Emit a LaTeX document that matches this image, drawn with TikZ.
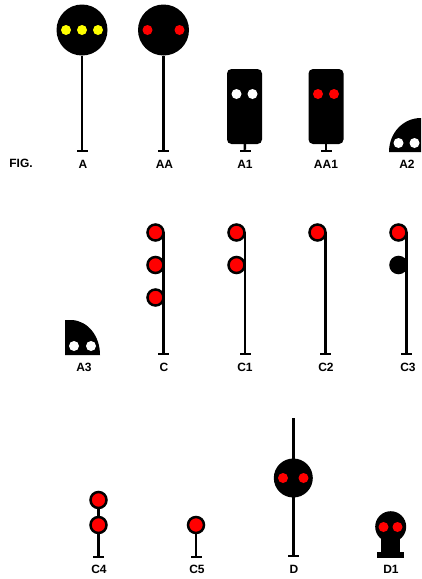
\documentclass[tikz,border=0pt]{standalone}
\usepackage{fontspec}
\setmainfont{Liberation Sans}
\definecolor{lampred}{RGB}{255,0,0}
\definecolor{lampyellow}{RGB}{255,255,0}
\tikzset{
    head/.style={circle, fill=black, minimum size=51pt},
    body/.style={rectangle, fill=black, rounded corners=4.5pt, minimum width=35pt, minimum height=75pt},
    lamp/.style={circle, minimum size=10pt},
    ball/.style={circle, draw=black, line width=2.5pt, fill=lampred, minimum size=16pt},
    foot/.style={rectangle, fill=black, minimum width=11pt, minimum height=2.5pt},
    post/.style={line width=2.5pt},
    tag/.style={font=\bfseries\fontsize{12}{12}\selectfont}
}
\begin{document}
\begin{tikzpicture}[
    x=1pt, y=-1pt,
    every node/.style={inner sep=0pt, outer sep=0pt}
]
\useasboundingbox (0,0) rectangle (421,579);

% ================= Top row : A, AA, A1, AA1, A2 =================

\node[tag] (fig) at (21,163) {FIG.};

\node[foot] (fa) at (82,151) {};
\node[head] (ha) at (82,30) {};
\draw[post] (ha)--(fa);
\node[lamp, fill=lampyellow] (a1) at (66,30) {};
\node[lamp, fill=lampyellow] (a2) at (82,30) {};
\node[lamp, fill=lampyellow] (a3) at (98,30) {};
\node[tag] (la) at (83,164) {A};

\node[foot] (faa) at (163.5,151) {};
\node[head] (haa) at (163.5,30) {};
\draw[post] (haa)--(faa);
\node[lamp, fill=lampred] (aa1) at (147.5,30) {};
\node[lamp, fill=lampred] (aa2) at (179.5,30) {};
\node[tag] (laa) at (164.5,164) {AA};

\node[foot] (fb) at (245,151) {};
\node[body] (hb) at (244.5,106.5) {};
\draw[post] (hb)--(fb);
\node[lamp, fill=white] (b1) at (236.5,94) {};
\node[lamp, fill=white] (b2) at (252.5,94) {};
\node[tag] (lb) at (245,164) {A1};

\node[foot] (fbb) at (326,151) {};
\node[body] (hbb) at (326,106.5) {};
\draw[post] (hbb)--(fbb);
\node[lamp, fill=lampred] (bb1) at (318,94) {};
\node[lamp, fill=lampred] (bb2) at (334,94) {};
\node[tag] (lbb) at (326,164) {AA1};

\fill (389,152) .. controls (389,133) and (403,118) .. (421,118) -- (421,152) -- cycle;
\node[lamp, fill=white] (d1) at (398.5,143) {};
\node[lamp, fill=white] (d2) at (414.5,143) {};
\node[tag] (ld) at (407,164) {A2};

% ================= Middle row : A3, C, C1, C2, C3 =================

\fill (65,355) -- (65,320) -- (72,320) .. controls (88,321) and (100,336) .. (100,355) -- cycle;
\node[lamp, fill=white] (e1) at (74,346) {};
\node[lamp, fill=white] (e2) at (91,346) {};
\node[tag] (le) at (84,367) {A3};

\coordinate (tc) at (163.5,232);
\node[foot] (fc) at (163.5,354) {};
\draw[post] (tc)--(fc);
\node[ball] (c1) at (155.5,232.5) {};
\node[ball] (c2) at (155.5,265) {};
\node[ball] (c3) at (155.5,297.5) {};
\node[tag] (lc) at (164,367) {C};

\coordinate (tf) at (245,232);
\node[foot] (ff) at (245,354) {};
\draw[post] (tf)--(ff);
\node[ball] (f1) at (236.5,232.5) {};
\node[ball] (f2) at (236.5,265) {};
\node[tag] (lf) at (245,367) {C1};

\coordinate (tg) at (325.5,232);
\node[foot] (fg) at (325.5,354) {};
\draw[post] (tg)--(fg);
\node[ball] (g1) at (317.5,232.5) {};
\node[tag] (lg) at (326,367) {C2};

\coordinate (th) at (406.7,232);
\node[foot] (fh) at (406.7,354) {};
\draw[post] (th)--(fh);
\node[ball] (h1) at (398.5,232.5) {};
\node[ball, fill=black] (h2) at (398.5,265) {};
\node[tag] (lh) at (408,367) {C3};

% ================= Bottom row : C4, C5, D, D1 =================

\node[foot] (fi) at (98.5,557) {};
\node[ball] (i1) at (98.5,500) {};
\node[ball] (i2) at (98.5,525) {};
\draw[post] (i1)--(i2);
\draw[post] (i2)--(fi);
\node[tag] (li) at (99,569) {C4};

\node[foot] (fj) at (196,557) {};
\node[ball] (j1) at (196,525) {};
\draw[post] (j1)--(fj);
\node[tag] (lj) at (197,569) {C5};

\coordinate (tk) at (293.3,418);
\node[foot] (fk) at (293.3,556) {};
\draw[post] (tk)--(fk);
\node[head, minimum size=39pt] (hk) at (293.3,478) {};
\node[lamp, fill=lampred] (k1) at (283,478) {};
\node[lamp, fill=lampred] (k2) at (303.5,478) {};
\node[tag] (lk) at (294,569) {D};

\node[rectangle, fill=black, minimum width=27.5pt, minimum height=6pt] (fm) at (390.7,555) {};
\node[rectangle, fill=black, minimum width=18.5pt, minimum height=16pt] (sm) at (390.7,544) {};
\node[head, minimum size=31pt] (hm) at (390.7,526.7) {};
\node[lamp, fill=lampred] (m1) at (383.5,527) {};
\node[lamp, fill=lampred] (m2) at (397.5,527) {};
\node[tag] (lm) at (391,569) {D1};

\end{tikzpicture}
\end{document}
